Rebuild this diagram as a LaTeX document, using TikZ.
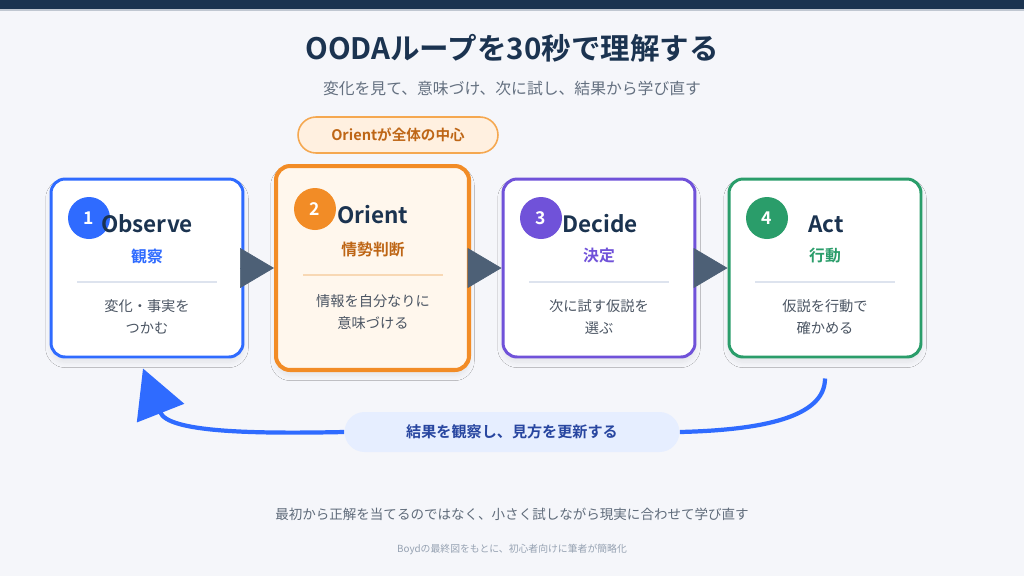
\documentclass[tikz,border=0pt]{standalone}
\usepackage{fontspec}
\setmainfont{Noto Sans CJK JP}[BoldFont={Noto Sans CJK JP Bold}]
\usepackage{xcolor}
\usepackage{tikz}
\usetikzlibrary{arrows.meta,calc,shadows.blur}
\definecolor{navy}{RGB}{27,51,80}
\definecolor{bgcol}{RGB}{245,246,250}
\definecolor{subgrey}{RGB}{100,112,128}
\definecolor{bodygrey}{RGB}{75,85,99}
\definecolor{obsblue}{RGB}{47,107,255}
\definecolor{oribrown}{RGB}{190,102,22}
\definecolor{oriorange}{RGB}{242,140,38}
\definecolor{orifill}{RGB}{255,247,237}
\definecolor{badgefill}{RGB}{255,240,224}
\definecolor{badgeline}{RGB}{245,168,80}
\definecolor{decpurple}{RGB}{112,82,217}
\definecolor{actgreen}{RGB}{42,157,106}
\definecolor{divline}{RGB}{221,227,238}
\definecolor{oridiv}{RGB}{248,216,180}
\definecolor{slate}{RGB}{77,96,118}
\definecolor{fbfill}{RGB}{230,238,255}
\definecolor{fbtext}{RGB}{40,70,160}
\definecolor{footgrey}{RGB}{95,107,122}
\definecolor{srcgrey}{RGB}{150,162,178}

\begin{document}
\begin{tikzpicture}[x=0.02cm,y=-0.02cm,
  card/.style={draw=#1,line width=1.7pt,fill=white,rounded corners=0.28cm,
    minimum width=3.84cm,minimum height=3.56cm,
    blur shadow={shadow xshift=0pt,shadow yshift=-3pt,shadow blur radius=3pt,shadow blur steps=6,shadow opacity=7}},
  numdot/.style={circle,fill=#1,text=white,inner sep=0pt,minimum size=0.84cm,
    font=\bfseries\fontsize{10}{12}\selectfont},
  steptitle/.style={text=navy,font=\bfseries\fontsize{12.8}{15}\selectfont},
  stepjp/.style={text=#1,font=\bfseries\fontsize{9}{11}\selectfont},
  body/.style={text=bodygrey,align=center,font=\fontsize{8.1}{12.5}\selectfont},
  divider/.style={draw=#1,line width=0.6pt},
  flow/.style={draw=slate,fill=slate,line width=0.4pt,-{Triangle[length=0.68cm,width=0.8cm]}},
  loopline/.style={draw=obsblue,line width=2.4pt}]
  \useasboundingbox (0,0) rectangle (1024,576);
  \fill[bgcol] (0,0) rectangle (1024,576);
  \fill[navy] (0,0) rectangle (1024,9);
  \draw[srcgrey!60,line width=0.6pt] (0,10) -- (1024,10);

  % heading
  \node[text=navy,font=\bfseries\fontsize{16.8}{20}\selectfont] (title) at (512,48) {OODAループを30秒で理解する};
  \node[text=subgrey,font=\fontsize{9}{11}\selectfont] (subtitle) at (512,88) {変化を見て、意味づけ、次に試し、結果から学び直す};
  \node[draw=badgeline,line width=0.9pt,fill=badgefill,rounded corners=0.36cm,minimum width=4cm,minimum height=0.72cm,
    text=oribrown,font=\bfseries\fontsize{8.3}{10}\selectfont] (badge) at (398,135) {Orientが全体の中心};

  % the four steps
  \node[card=obsblue] (obs) at (147,268) {};
  \node[card=oriorange,fill=orifill,line width=2.3pt,minimum width=3.86cm,minimum height=4.08cm] (ori) at (372.5,268) {};
  \node[card=decpurple] (dec) at (599,268) {};
  \node[card=actgreen] (act) at (825,268) {};

  \node[numdot=obsblue] (n1) at (89,218) {1};
  \node[steptitle] (obsT) at (147,224) {Observe};
  \node[stepjp=obsblue] (obsJ) at (147,256) {観察};
  \draw[divider=divline] (77,282) -- (217,282);
  \node[body] (obsB) at (147,317) {変化・事実を\\つかむ};

  \node[numdot=oriorange] (n2) at (315,209) {2};
  \node[steptitle] (oriT) at (373,215) {Orient};
  \node[stepjp=oribrown] (oriJ) at (373,249) {情勢判断};
  \draw[divider=oridiv] (303,275) -- (443,275);
  \node[body] (oriB) at (373,312) {情報を自分なりに\\意味づける};

  \node[numdot=decpurple] (n3) at (541,218) {3};
  \node[steptitle] (decT) at (600,224) {Decide};
  \node[stepjp=decpurple] (decJ) at (599,256) {決定};
  \draw[divider=divline] (529,282) -- (669,282);
  \node[body] (decB) at (599,317) {次に試す仮説を\\選ぶ};

  \node[numdot=actgreen] (n4) at (767,218) {4};
  \node[steptitle] (actT) at (826,224) {Act};
  \node[stepjp=actgreen] (actJ) at (825,256) {行動};
  \draw[divider=divline] (755,282) -- (895,282);
  \node[body] (actB) at (825,317) {仮説を行動で\\確かめる};

  \draw[flow] (obs.east) -- (ori.west);
  \draw[flow] (ori.east) -- (dec.west);
  \draw[flow] (dec.east) -- (act.west);

  % feedback loop
  \node[fill=fbfill,rounded corners=0.4cm,minimum width=6.7cm,minimum height=0.8cm,
    text=fbtext,font=\bfseries\fontsize{8.6}{10}\selectfont] (fb) at (512,432) {結果を観察し、見方を更新する};
  \coordinate (loopstart) at ($(act.south)+(0,20)$);
  \coordinate (looptip) at ($(obs.south)+(-4,10)$);
  \draw[loopline] (loopstart) .. controls (825,418) and (760,430) .. (fb.east);
  \draw[loopline,-{Triangle[length=0.96cm,width=1cm]}] (fb.west) .. controls (250,434) and (168,432) .. (looptip);

  % notes
  \node[text=footgrey,font=\fontsize{7.7}{9}\selectfont] (note) at (512,514) {最初から正解を当てるのではなく、小さく試しながら現実に合わせて学び直す};
  \node[text=srcgrey,font=\fontsize{5.6}{7}\selectfont] (source) at (512,549) {Boydの最終図をもとに、初心者向けに筆者が簡略化};
\end{tikzpicture}
\end{document}
